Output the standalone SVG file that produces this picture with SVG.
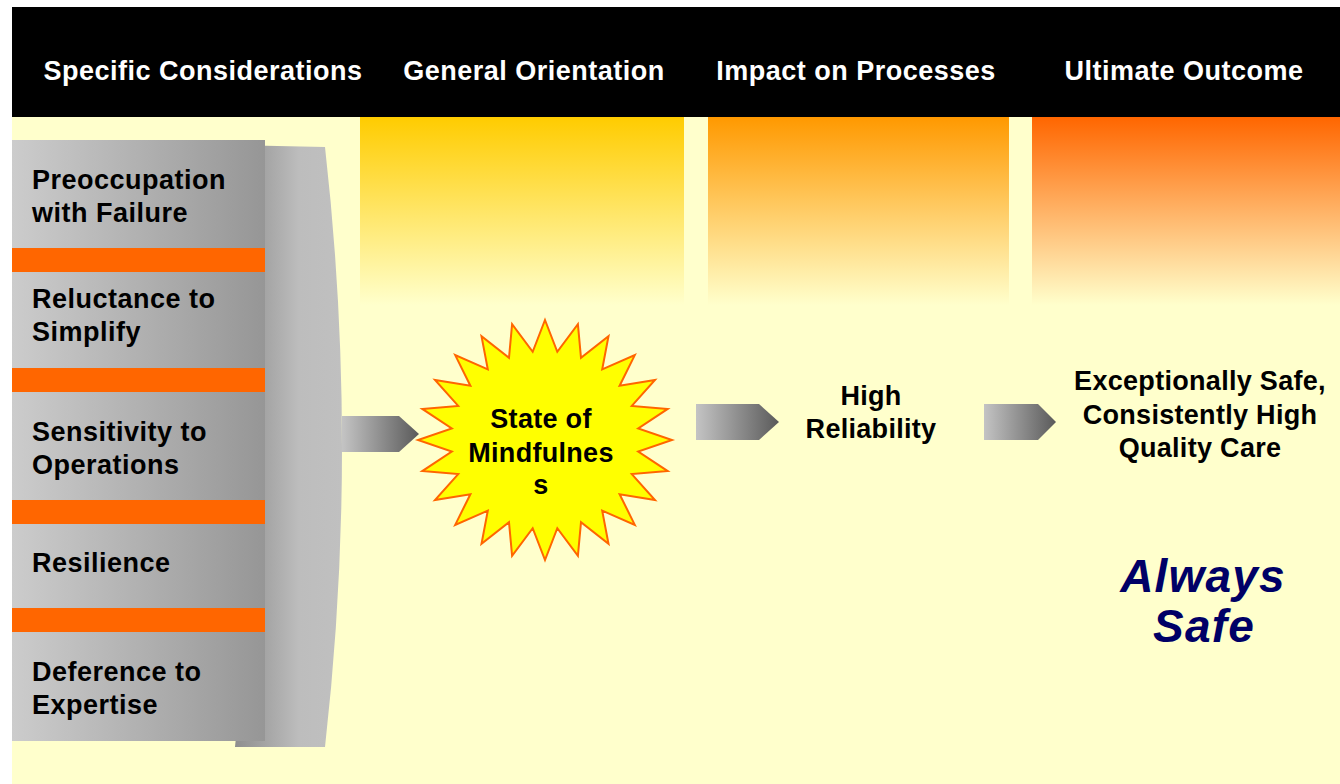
<svg xmlns="http://www.w3.org/2000/svg" width="1340" height="784" viewBox="0 0 1340 784">
  <defs>
    <linearGradient id="gold" x1="0" y1="0" x2="0" y2="1">
      <stop offset="0" stop-color="#FFCC00"/>
      <stop offset="1" stop-color="#FFFFCC"/>
    </linearGradient>
    <linearGradient id="amber" x1="0" y1="0" x2="0" y2="1">
      <stop offset="0" stop-color="#FF9900"/>
      <stop offset="1" stop-color="#FFFFCC"/>
    </linearGradient>
    <linearGradient id="flame" x1="0" y1="0" x2="0" y2="1">
      <stop offset="0" stop-color="#FF6600"/>
      <stop offset="1" stop-color="#FFFFCC"/>
    </linearGradient>
    <linearGradient id="stackFace" x1="0" y1="0" x2="1" y2="0">
      <stop offset="0" stop-color="#CCCCCC"/>
      <stop offset="1" stop-color="#969696"/>
    </linearGradient>
    <linearGradient id="stackBack" x1="0" y1="0" x2="1" y2="0">
      <stop offset="0" stop-color="#8E8E8E"/>
      <stop offset="0.6" stop-color="#BDBDBD"/>
      <stop offset="1" stop-color="#C0C0C0"/>
    </linearGradient>
    <linearGradient id="chevron" x1="0" y1="0" x2="1" y2="0">
      <stop offset="0" stop-color="#C4C4C4"/>
      <stop offset="1" stop-color="#5A5A5A"/>
    </linearGradient>
    <style>
      .head { font-family: "Liberation Sans", Arial, sans-serif; font-weight: bold; font-size: 27px; letter-spacing: 0.5px; fill: #FFFFFF; text-anchor: middle; }
      .item { font-family: "Liberation Sans", Arial, sans-serif; font-weight: bold; font-size: 27px; letter-spacing: 0.5px; fill: #000000; }
      .label { font-family: "Liberation Sans", Arial, sans-serif; font-weight: bold; font-size: 27px; letter-spacing: 0.3px; fill: #000000; text-anchor: middle; }
      .motto { font-family: "Liberation Sans", Arial, sans-serif; font-weight: bold; font-style: italic; font-size: 46px; letter-spacing: 1.2px; fill: #000066; text-anchor: middle; }
      .bar { fill: #FF6600; }
      .arrow { fill: url(#chevron); }
    </style>
  </defs>

  <!-- page -->
  <rect x="0" y="0" width="1340" height="784" fill="#FFFFFF"/>
  <rect x="12" y="117" width="1328" height="667" fill="#FFFFCC"/>
  <rect x="12" y="7" width="1328" height="110" fill="#000000"/>

  <!-- column washes -->
  <rect x="360" y="117" width="324" height="188" fill="url(#gold)"/>
  <rect x="708" y="117" width="301" height="188" fill="url(#amber)"/>
  <rect x="1032" y="117" width="308" height="188" fill="url(#flame)"/>

  <!-- column headings -->
  <g id="headings">
    <text class="head" x="203" y="80">Specific Considerations</text>
    <text class="head" x="534" y="80">General Orientation</text>
    <text class="head" x="856" y="80">Impact on Processes</text>
    <text class="head" x="1184" y="80">Ultimate Outcome</text>
  </g>

  <!-- considerations stack -->
  <g id="considerations">
    <path d="M235,145 L325,147 Q359,447 325,747 L235,747 Q269,447 235,145 Z" fill="url(#stackBack)"/>
    <rect x="12" y="140" width="253" height="601" fill="url(#stackFace)"/>
    <rect class="bar" x="12" y="248" width="253" height="24"/>
    <rect class="bar" x="12" y="368" width="253" height="24"/>
    <rect class="bar" x="12" y="500" width="253" height="24"/>
    <rect class="bar" x="12" y="608" width="253" height="24"/>
    <text class="item" x="32" y="189">Preoccupation</text>
    <text class="item" x="32" y="222">with Failure</text>
    <text class="item" x="32" y="308">Reluctance to</text>
    <text class="item" x="32" y="341">Simplify</text>
    <text class="item" x="32" y="441">Sensitivity to</text>
    <text class="item" x="32" y="474">Operations</text>
    <text class="item" x="32" y="572">Resilience</text>
    <text class="item" x="32" y="681">Deference to</text>
    <text class="item" x="32" y="714">Expertise</text>
  </g>

  <!-- connectors -->
  <g id="connectors">
    <polygon class="arrow" points="342,416 399,416 419,434 399,452 342,452"/>
    <polygon class="arrow" points="696,404 759,404 779,422 759,440 696,440"/>
    <polygon class="arrow" points="984,404 1038,404 1056,422 1038,440 984,440"/>
  </g>

  <!-- mindfulness burst -->
  <g id="mindfulness">
    <polygon fill="#FFFF00" stroke="#FF6600" stroke-width="2" stroke-linejoin="miter"
      points="545,320 557.3,351.8 577.9,324.1 581,357.8 608.5,336.1 602.2,369.4 634.8,355.1 619.6,385.8 655,380 631.8,405.9 667.7,408.9 638.2,428.4 672,440 638.2,451.6 667.7,471.1 631.8,474.1 655,500 619.6,494.2 634.8,524.9 602.2,510.6 608.5,543.9 581,522.2 577.9,555.9 557.3,528.2 545,560 532.7,528.2 512.1,555.9 509,522.2 481.5,543.9 487.8,510.6 455.2,524.9 470.4,494.2 435,500 458.2,474.1 422.3,471.1 451.8,451.6 418,440 451.8,428.4 422.3,408.9 458.2,405.9 435,380 470.4,385.8 455.2,355.1 487.8,369.4 481.5,336.1 509,357.8 512.1,324.1 532.7,351.8"/>
    <text class="label" x="541" y="428">State of</text>
    <text class="label" x="541" y="462">Mindfulnes</text>
    <text class="label" x="541" y="494">s</text>
  </g>

  <!-- reliability -->
  <g id="reliability">
    <text class="label" x="871" y="405">High</text>
    <text class="label" x="871" y="438">Reliability</text>
  </g>

  <!-- outcome -->
  <g id="outcome">
    <text class="label" x="1200" y="390">Exceptionally Safe,</text>
    <text class="label" x="1200" y="424">Consistently High</text>
    <text class="label" x="1200" y="457">Quality Care</text>
  </g>

  <!-- motto -->
  <g id="motto">
    <text class="motto" x="1203" y="592">Always</text>
    <text class="motto" x="1204" y="642">Safe</text>
  </g>
</svg>
